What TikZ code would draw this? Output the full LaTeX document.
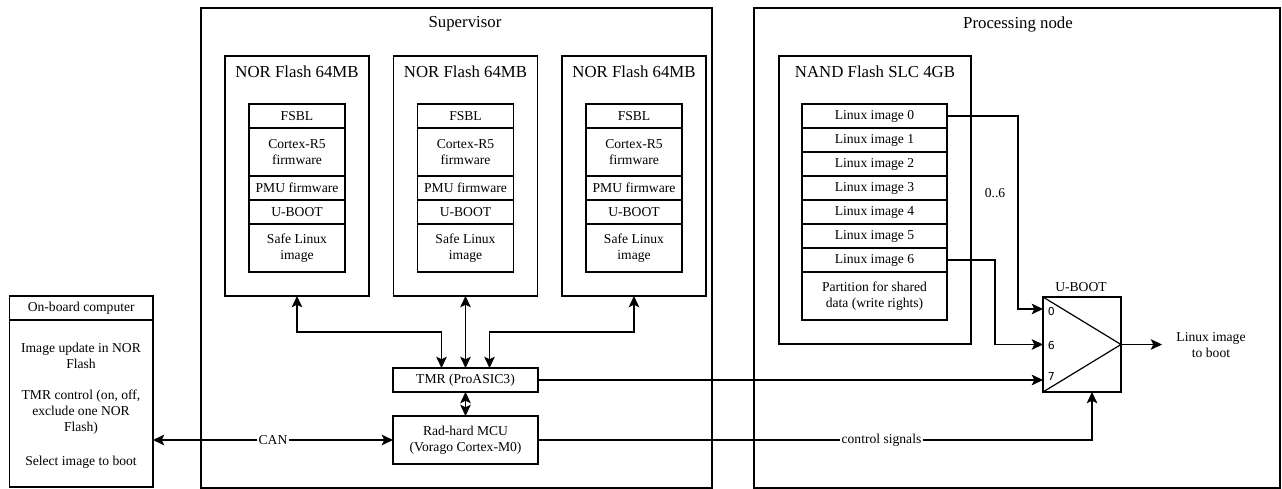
\documentclass[tikz,border=0pt]{standalone}
\usepackage{fontspec}
\setmainfont{Liberation Serif}
\newfontfamily\portfont{DejaVu Sans}
\usetikzlibrary{positioning,calc,arrows.meta}
\tikzset{
box/.style={
	  draw, inner sep=0pt, outer sep=0pt, align=center},
small/.style={
	  font=\fontsize{10.2}{11.8}\selectfont, align=center},
big/.style={font=\fontsize{12.6}{14.5}\selectfont},
cell/.style={box, small, minimum height=18pt},
norcell/.style={cell, minimum width=72pt},
nandcell/.style={cell, minimum width=108.75pt},
port/.style={font=\fontsize{8.2}{9}\portfont, inner sep=1pt}
}

\begin{document}
\begin{tikzpicture}[x=0.75pt, y=-0.75pt, line width=0.9pt,
	>={Stealth[length=8.5pt, width=8pt, inset=2pt]}]
	\useasboundingbox (0,0) rectangle (1282,489);

	% on-board computer
	\node[box, minimum width=107.6pt, minimum height=143.25pt] (obc) at (81.25,391.5) {};
	\node[cell, minimum width=107.6pt, anchor=north] (obctitle) at (obc.north) {On-board computer};
	\node[small] (obcupd) at (81,356) {Image update in NOR\\Flash};
	\node[small] (obctmr) at (81,412) {TMR control (on, off,\\exclude one NOR\\Flash)};
	\node[small] (obcsel) at (81,462) {Select image to boot};

	% supervisor with the three NOR flashes
	\node[box, minimum width=383.25pt, minimum height=360pt] (sup) at (456.5,248) {};
	\node[big] (suptitle) at (465,24) {Supervisor};
	\foreach \i/\cx in {1/297,2/465.5,3/634}{
		\node[box, minimum width=108pt, minimum height=180pt] (nor\i) at (\cx,176) {};
		\node[big] (nortitle\i) at (\cx,72) {NOR Flash 64MB};
		\node[norcell, anchor=north] (fsbl\i) at (\cx,104) {FSBL};
		\node[norcell, minimum height=36pt, below=0pt of fsbl\i] (r5\i) {Cortex-R5\\firmware};
		\node[norcell, below=0pt of r5\i] (pmu\i) {PMU firmware};
		\node[norcell, below=0pt of pmu\i] (uboot\i) {U-BOOT};
		\node[norcell, minimum height=36pt, below=0pt of uboot\i] (safe\i) {Safe Linux\\image};
	}
	\node[cell, minimum width=108.75pt] (tmr) at (465.5,380) {TMR (ProASIC3)};
	\node[cell, minimum width=108.75pt, minimum height=36pt] (mcu) at (465.5,440) {Rad-hard MCU\\(Vorago Cortex-M0)};

	% processing node
	\node[box, minimum width=394.5pt, minimum height=360pt] (proc) at (1017,248) {};
	\node[big] (proctitle) at (1018,24) {Processing node};
	\node[box, minimum width=144pt, minimum height=216pt] (nand) at (875,200) {};
	\node[big] (nandtitle) at (875,72) {NAND Flash SLC 4GB};
	\node[nandcell, anchor=north] (img0) at (874.5,104) {Linux image 0};
	\foreach \i [evaluate=\i as \j using int(\i-1)] in {1,...,6}
		\node[nandcell, below=0pt of img\j] (img\i) {Linux image \i};
	\node[nandcell, minimum height=36pt, below=0pt of img6] (shared) {Partition for shared\\data (write rights)};

	% boot selector
	\node[box, minimum width=58.5pt, minimum height=71.25pt] (mux) at (1082,344.5) {};
	\node[small] (muxtitle) at (1081,287) {U-BOOT};
	\draw (mux.north west) -- (mux.east) -- (mux.south west);
	\coordinate (in0) at ($(mux.north west)+(0,12)$);
	\coordinate (in6) at (mux.west);
	\coordinate (in7) at ($(mux.south west)+(0,-12)$);
	\coordinate (ctl) at ($(mux.south)+(10,0)$);
	\coordinate (out) at ($(mux.east)+(41,0)$);
	\node[port, anchor=west] (port0) at ($(in0)+(3,3)$) {0};
	\node[port, anchor=west] (port6) at ($(in6)+(3,1)$) {6};
	\node[port, anchor=west] (port7) at ($(in7)+(3,-3)$) {7};
	\node[small] (range) at (995,193) {0..6};
	\node[small] (outtext) at (1211,345) {Linux image\\to boot};

	\coordinate (tmr1) at ($(tmr.north)+(-24,0)$);
	\coordinate (tmr3) at ($(tmr.north)+(24,0)$);
	\draw[<->] (nor1.south) -- ++(0,36) -| (tmr1);
	\draw[<->] (nor2.south) -- (tmr.north);
	\draw[<->] (nor3.south) -- ++(0,36) -| (tmr3);
	\draw[<->] (tmr.south) -- (mcu.north);
	\draw[<->] (obc.east |- mcu.west) -- (mcu.west) node[small, fill=white, inner sep=1pt, midway] (cantext) {CAN};
	\draw[->] (img0.east) -| ($(in0)+(-25,0)$) -- (in0);
	\draw[->] (img6.east) -| ($(in6)+(-48,0)$) -- (in6);
	\draw[->] (tmr.east) -- (in7);
	\draw[->] (mcu.east) -| (ctl) node[small, fill=white, inner sep=1pt, pos=0.31] (ctltext) {control signals};
	\draw[->] (mux.east) -- (out);

\end{tikzpicture}
\end{document}
